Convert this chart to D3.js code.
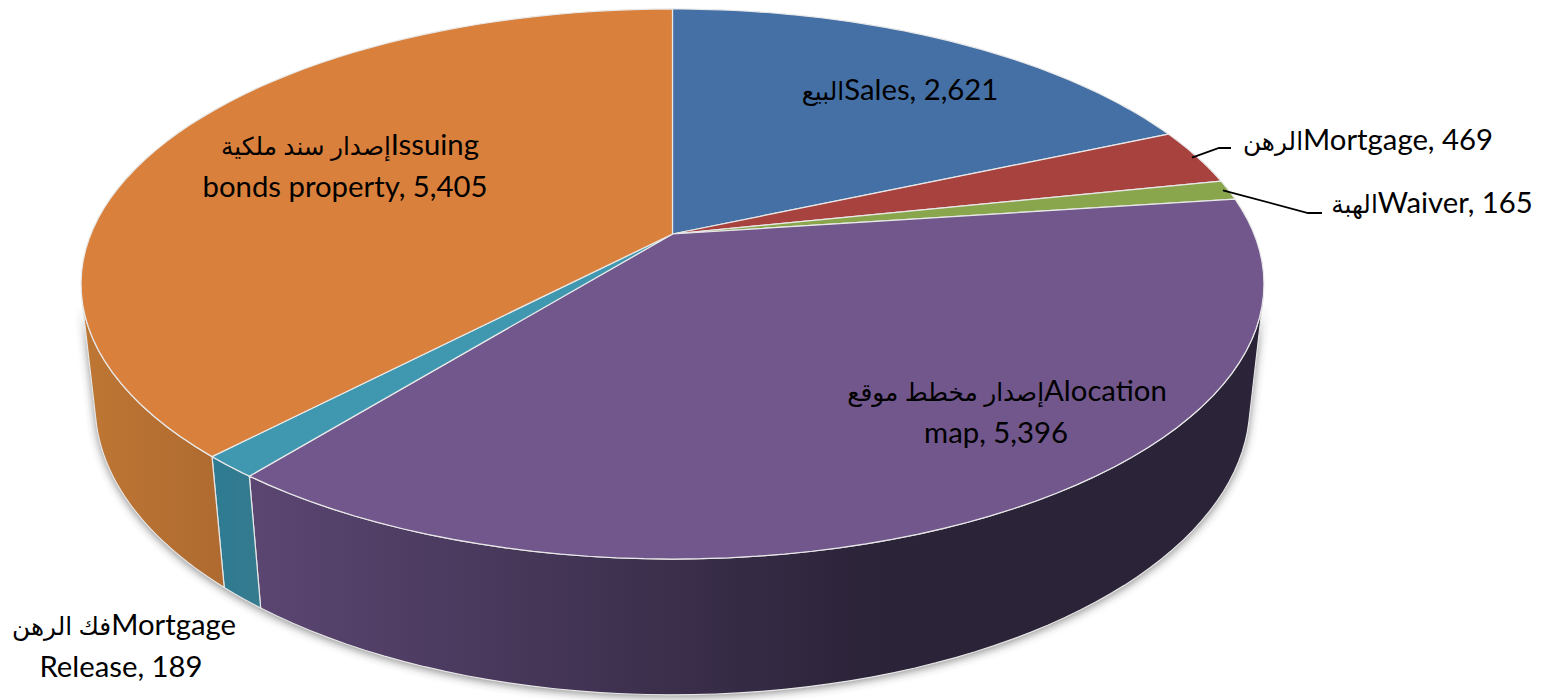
<!DOCTYPE html>
<html><head><meta charset="utf-8">
<script src="https://cdn.jsdelivr.net/npm/d3@7"></script>
<style>html,body{margin:0;background:#fff}svg{display:block}
text{font-family:Lato,"Noto Sans","DejaVu Sans",sans-serif;font-size:29.3px;fill:#000}
tspan.ar{font-size:24.8px}</style>
</head><body><svg id="c" width="1548" height="700"></svg>
<script>
const categories=["Sales","Mortgage","Waiver","Alocation map","Mortgage Release","Issuing bonds property"];
const values=[2621,469,165,5396,189,5405];
const colors=["#4570a6","#a7423f","#8aa64d","#71578c","#4097b0","#d9803c"];
const sideColors=[["#2f4d73","#2f4d73"],["#732e2c","#732e2c"],["#5f7335","#5f7335"],["#5b4672","#2b2338"],["#2f7b91","#367a8e"],["#bd7533","#ae6a30"]];
const labelLines=[["البيعSales, 2,621"],["الرهنMortgage, 469"],["الهبةWaiver, 165"],["إصدار مخطط موقعAlocation","map, 5,396"],["فك الرهنMortgage","Release, 189"],["إصدار سند ملكيةIssuing","bonds property, 5,405"]];
const labelX=[[900],[1368],[1432],[1007,996],[124,121],[350,345]];
const labelY=[100,150,213,401,635,155];
const lineStep=42;
const leaderEnds={1:[[1219,148],[1231,148]],2:[[1308,213],[1322,213]]};

const svg=d3.select("#c"),defs=svg.append("defs");
const pie=d3.pie().value(d=>d).sort(null)(values);
// projective camera fitted to the tilted disc
const cx=672.5,R=581.6,cy=234,A=223.4,C=-0.1818,D=0.0236,E=127.5;
const project=(ang,r,h)=>{const u=r*Math.sin(ang),v=-r*Math.cos(ang),w=1+C*v+D*h;
  return [cx+R*u/w,(A*v+cy+E*h)/w];};
const samples=(a0,a1,r,h)=>d3.range(0,61).map(i=>project(a0+(a1-a0)*i/60,r,h));
const line=d3.line().curve(d3.curveLinear);

// the wall is visible only between the tangents from the walls' vanishing point
const v0=(E/D-cy)/(A-(E/D)*C);
const visLo=Math.PI-Math.acos(1/v0),visHi=Math.PI+Math.acos(1/v0);
const walls=pie.map((d,i)=>({i,a0:Math.max(d.startAngle,visLo),a1:Math.min(d.endAngle,visHi)})).filter(d=>d.a1>d.a0);

const blur=defs.append("filter").attr("id","sh").attr("x","-5%").attr("y","-5%").attr("width","110%").attr("height","110%");
blur.append("feGaussianBlur").attr("stdDeviation",5);

walls.forEach(d=>{const g=defs.append("linearGradient").attr("id","side"+d.i).attr("gradientUnits","userSpaceOnUse");
  const xs=samples(d.a0,d.a1,1,1).map(p=>p[0]);
  const ext=d.i===3?[250,880]:d3.extent(xs);
  g.attr("x1",ext[0]).attr("x2",ext[1]).attr("y1",0).attr("y2",0);
  g.append("stop").attr("offset",0).attr("stop-color",sideColors[d.i][d.i===3?1:0]);
  g.append("stop").attr("offset",1).attr("stop-color",sideColors[d.i][d.i===3?0:1]);
  if(d.i===3){g.attr("x1",ext[1]).attr("x2",ext[0]);}
});

const sidePath=d=>{const t=samples(d.a0,d.a1,1,0),b=samples(d.a0,d.a1,1,1).reverse();return line(t.concat(b))+"Z";};
// soft shadow under the rim
svg.append("g").attr("filter","url(#sh)").attr("opacity",.6).attr("transform","translate(0,2)")
  .selectAll("path").data(walls).join("path").attr("d",sidePath).attr("fill","#333");
// side walls
svg.append("g").selectAll("path").data(walls).join("path").attr("d",sidePath)
  .attr("fill",d=>`url(#side${d.i})`).attr("stroke","#e6e6e6").attr("stroke-width",1.2).attr("stroke-linejoin","round");
// top face
const topPath=d=>{const p=samples(d.startAngle,d.endAngle,1,0);return line([project(0,0,0)].concat(p))+"Z";};
svg.append("g").selectAll("path").data(pie).join("path").attr("d",topPath)
  .attr("fill",(d,i)=>colors[i]).attr("stroke","#e8e8e8").attr("stroke-width",1.2).attr("stroke-linejoin","round");
// leaders
Object.keys(leaderEnds).forEach(k=>{const d=pie[k],s=project((d.startAngle+d.endAngle)/2,.99,0);
  svg.append("path").attr("d",line([s,...leaderEnds[k]])).attr("fill","none").attr("stroke","#000").attr("stroke-width",1.8);});
// labels
const lg=svg.append("g").attr("text-anchor","middle");
labelLines.forEach((ls,i)=>ls.forEach((t,j)=>{
  const el=lg.append("text").attr("x",labelX[i][j]).attr("y",labelY[i]+j*lineStep).attr("direction","ltr");
  t.split(/([\u0600-\u06FF ]*[\u0600-\u06FF])/).filter(Boolean).forEach(part=>{
    el.append("tspan").attr("class",/[\u0600-\u06FF]/.test(part)?"ar":null).text(part);});
}));
</script></body></html>
